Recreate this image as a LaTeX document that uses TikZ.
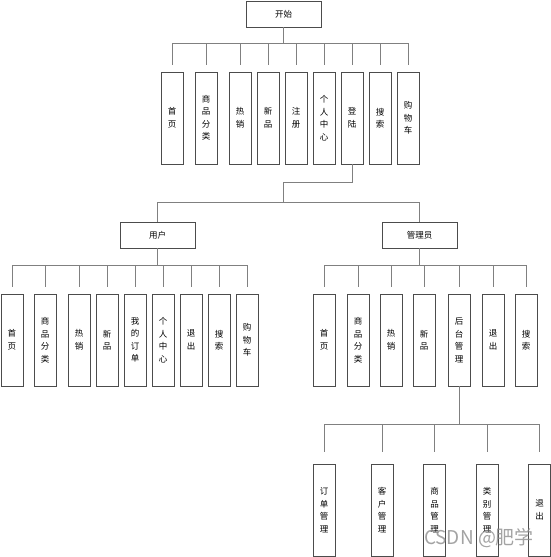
\documentclass[tikz,border=0pt]{standalone}
\usepackage{fontspec}
\newfontfamily\cjk{Noto Sans CJK SC}
\usetikzlibrary{positioning,calc}
\tikzset{
 menubox/.style={draw=black!70,minimum width=22pt,minimum height=92pt,inner sep=0pt,align=center,font=\cjk\fontsize{8.5}{12.5}\selectfont},
 rolebox/.style={draw=black!70,minimum width=75pt,minimum height=26pt,inner sep=0pt,font=\cjk\fontsize{8.5}{10}\selectfont},
 link/.style={draw=black!50,line width=0.8pt},
}
\begin{document}
\begin{tikzpicture}[x=1pt,y=-1pt]
\useasboundingbox (0,0) rectangle (551,557);
% ---------- start level
\node[rolebox] (start) at (283.5,14){开始};
\foreach \i/\x/\lbl in {1/172/首\\页,2/206/商\\品\\分\\类,3/240/热\\销,4/268/新\\品,5/296/注\\册,6/324/个\\人\\中\\心,7/352/登\\陆,8/380/搜\\索,9/408/购\\物\\车}{
 \node[menubox] (t\i) at (\x,118){\lbl};}
\coordinate (topbus) at (283.5,43);
\draw[link] (start.south) -- (topbus);
\draw[link] (t1.north |- topbus) -- (t9.north |- topbus);
\foreach \i in {1,...,9}{
 \draw[link,shorten >=7pt] (t\i.north |- topbus) -- (t\i.north);}
% ---------- roles
\node[rolebox] (user) at (157.5,235){用户};
\node[rolebox] (admin) at (419.5,235){管理员};
\coordinate (bend) at (283,182);
\coordinate (rolebus) at (283,202);
\draw[link] (t7.south) |- (bend) -- (rolebus);
\draw[link] (user.north |- rolebus) -- (admin.north |- rolebus);
\draw[link] (user.north |- rolebus) -- (user.north);
\draw[link] (admin.north |- rolebus) -- (admin.north);
% ---------- user menu
\foreach \i/\x/\lbl in {1/12/首\\页,2/45/商\\品\\分\\类,3/79/热\\销,4/107/新\\品,5/135/我\\的\\订\\单,6/163/个\\人\\中\\心,7/191/退\\出,8/219/搜\\索,9/247/购\\物\\车}{
 \node[menubox] (u\i) at (\x,340){\lbl};}
\coordinate (userbus) at (157.5,265);
\draw[link] (user.south) -- (userbus);
\draw[link] (u1.north |- userbus) -- (u9.north |- userbus);
\foreach \i in {1,...,9}{
 \draw[link,shorten >=7pt] (u\i.north |- userbus) -- (u\i.north);}
% ---------- admin menu
\foreach \i/\x/\lbl in {1/324/首\\页,2/358/商\\品\\分\\类,3/391/热\\销,4/424/新\\品,5/459/后\\台\\管\\理,6/493/退\\出,7/526/搜\\索}{
 \node[menubox] (a\i) at (\x,340){\lbl};}
\coordinate (adminbus) at (419.5,265);
\draw[link] (admin.south) -- (adminbus);
\draw[link] (a1.north |- adminbus) -- (a7.north |- adminbus);
\foreach \i in {1,...,7}{
 \draw[link,shorten >=7pt] (a\i.north |- adminbus) -- (a\i.north);}
% ---------- back office
\foreach \i/\x/\lbl in {1/324/订\\单\\管\\理,2/382/客\\户\\管\\理,3/434.5/商\\品\\管\\理,4/487/类\\别\\管\\理,5/539.5/退\\出}{
 \node[menubox] (s\i) at (\x,510){\lbl};}
\coordinate (subbus) at (459,424);
\draw[link] (a5.south) -- (subbus);
\draw[link] (s1.north |- subbus) -- (s5.north |- subbus);
\foreach \i in {1,...,5}{
 \draw[link,shorten >=12pt] (s\i.north |- subbus) -- (s\i.north);}
\node[font=\cjk\fontsize{19}{19}\selectfont,text=black!45,opacity=0.8] (mark) at (479,538){CSDN @肥学};
\end{tikzpicture}
\end{document}
